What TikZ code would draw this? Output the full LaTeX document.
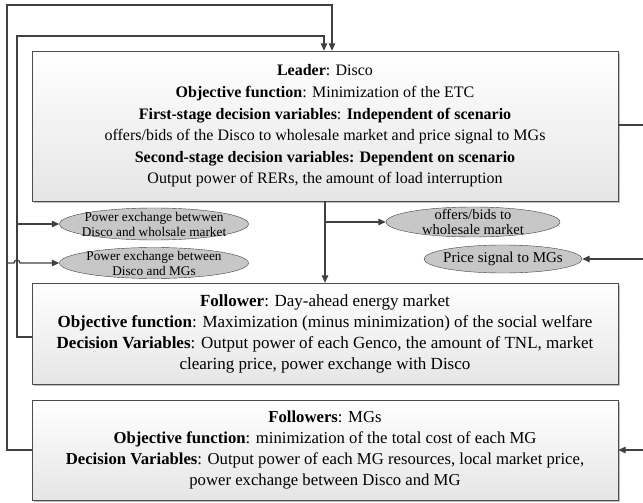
\documentclass[tikz,border=0pt]{standalone}
\usepackage{fontspec}
\setmainfont{Liberation Serif}
\usetikzlibrary{arrows.meta,shadows,shapes.geometric}

\begin{document}
\begin{tikzpicture}[x=1pt, y=-1pt,
  box/.style={draw=black!70, top color=white, bottom color=black!10,
    drop shadow={shadow xshift=2pt, shadow yshift=-2pt, opacity=0.35, fill=black!70},
    align=center, minimum width=586pt, inner sep=0pt},
  oval/.style={ellipse, draw=black!75, fill=black!22, inner sep=0pt},
  ovaltext/.style={align=center, font=\fontsize{13.3}{15}\selectfont},
  wire/.style={draw=black!75, line width=1.3pt},
  link/.style={wire, -{Triangle[length=7.5pt,width=6.5pt]}}]

\useasboundingbox (0,0) rectangle (643,503);

% the three levels
\node[box, minimum height=150pt, font=\fontsize{16}{21.6}\selectfont] (leader) at (325,126) {%
  \textbf{Leader}: Disco\\
  \textbf{Objective function}: Minimization of the ETC\\
  \textbf{First-stage decision variables}: \textbf{Independent of scenario}\\
  offers/bids of the Disco to wholesale market and price signal to MGs\\
  \textbf{Second-stage decision variables: Dependent on scenario}\\
  Output power of RERs, the amount of load interruption};
\node[box, minimum height=101pt, font=\fontsize{17}{21}\selectfont] (follower) at (325,333.5) {%
  \textbf{Follower}: Day-ahead energy market\\
  \textbf{Objective function}: Maximization (minus minimization) of the social welfare\\
  \textbf{Decision Variables}: Output power of each Genco, the amount of TNL, market\\
  clearing price, power exchange with Disco};
\node[box, minimum height=100pt, font=\fontsize{16.7}{20.8}\selectfont] (mgs) at (325,450) {%
  \textbf{Followers}: MGs\\
  \textbf{Objective function}: minimization of the total cost of each MG\\
  \textbf{Decision Variables}: Output power of each MG resources, local market price,\\
  power exchange between Disco and MG};

% exchanged quantities
\node[oval, minimum width=189pt, minimum height=32pt,
  label={[ovaltext]center:Power exchange betwwen\\Disco and wholsale market}] (pwm) at (154,224) {};
\node[oval, minimum width=189pt, minimum height=31pt,
  label={[ovaltext]center:Power exchange between\\Disco and MGs}] (pmg) at (154,263) {};
\node[oval, minimum width=174pt, minimum height=30pt,
  label={[ovaltext, font=\fontsize{14.5}{15.5}\selectfont]center:offers/bids to\\wholesale market}] (offers) at (473,222) {};
\node[oval, minimum width=158pt, minimum height=28pt,
  label={[ovaltext, font=\fontsize{15}{16}\selectfont]center:Price signal to MGs}] (price) at (503,259) {};

% corner points of the feedback lines
\coordinate (top1) at (7,5);
\coordinate (top2) at (17,36);
\coordinate (fork) at (325,222);
\coordinate (rgt1) at (643,125);
\coordinate (rgt2) at (643,259);
\coordinate (rgt3) at (643,450);

\draw[link] (mgs.west) -| (top1) -| ([xshift=7pt]leader.north);
\draw[link] ([yshift=-3.5pt]follower.west) -| (top2) -| ([xshift=-1pt]leader.north);
\draw[link] (leader.south) -- (follower.north);
\draw[link] (fork) -- (offers.west);
\draw[link] (top2 |- pwm) -- (pwm.west);
\draw[link] (top1 |- pmg) -- ([xshift=-3pt]top2 |- pmg) arc (180:0:3pt) -- (pmg.west);
\draw[wire] (leader.east |- rgt1) -- (rgt1);
\draw[link] (rgt2) -- (price.east);
\draw[link] (rgt3) -- (mgs.east);
\end{tikzpicture}
\end{document}
